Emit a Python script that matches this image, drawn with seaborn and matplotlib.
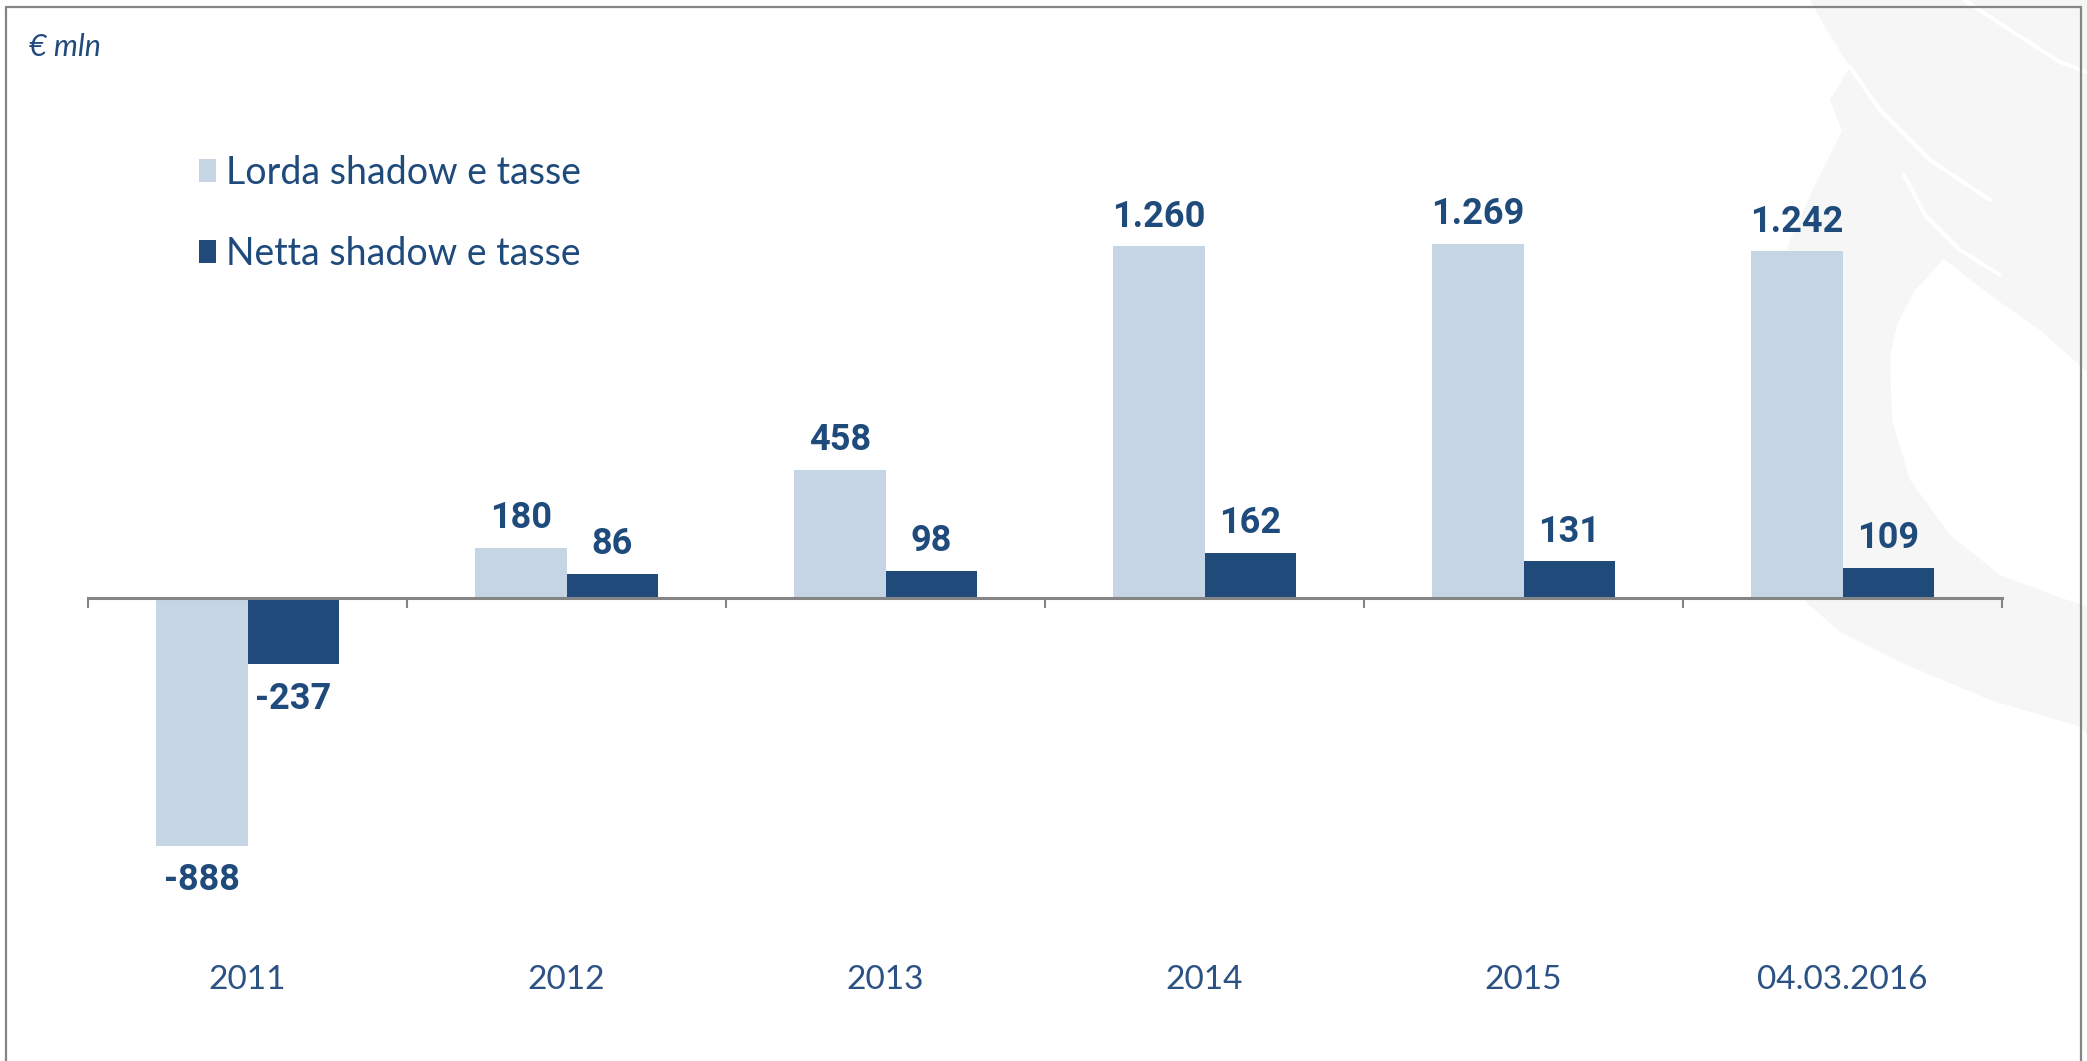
import numpy as np
import pandas as pd
import matplotlib
matplotlib.use("Agg")
import matplotlib.pyplot as plt
from matplotlib.patches import Polygon
from matplotlib.lines import Line2D
import seaborn as sns

# ---- data -------------------------------------------------------------
categories = ["2011", "2012", "2013", "2014", "2015", "04.03.2016"]
series_names = ["Lorda shadow e tasse", "Netta shadow e tasse"]
lorda = [-888, 180, 458, 1260, 1269, 1242]
netta = [-237, 86, 98, 162, 131, 109]
unit_label = "€ mln"

# ---- style ------------------------------------------------------------
LIGHT = "#c5d5e4"
DARK = "#204a7a"
TEXT = "#1f4a7c"
TICK_TEXT = "#2c5284"
GREY = "#858585"
WM = "#f6f6f6"

sns.set_theme(style="white")
plt.rcParams["font.family"] = ["Lato", "DejaVu Sans"]

W, H = 2087, 1061
fig = plt.figure(figsize=(W / 100, H / 100), dpi=100)
fig.patch.set_facecolor("white")


def fx(px):
    return px / W


def fy(py):
    return 1 - py / H


# faint emblem in the background on the right
outer = [(1810, 0), (2087, 0), (2087, 735), (2081, 727), (1990, 700), (1900, 662),
         (1840, 632), (1807, 603), (1780, 560), (1762, 480), (1760, 400),
         (1768, 320), (1790, 240), (1815, 185), (1842, 131), (1830, 100),
         (1850, 67), (1830, 35)]
inner = [(1944, 259), (1915, 290), (1897, 325), (1890, 356), (1892, 420),
         (1910, 480), (1950, 535), (2000, 575), (2061, 598), (2087, 606),
         (2087, 372), (2040, 330), (1990, 295)]
fig.patches.append(Polygon([(fx(x), fy(y)) for x, y in outer], closed=True,
                           transform=fig.transFigure, facecolor=WM, edgecolor="none",
                           zorder=-3))
fig.patches.append(Polygon([(fx(x), fy(y)) for x, y in inner], closed=True,
                           transform=fig.transFigure, facecolor="white", edgecolor="none",
                           zorder=-2))
for pts in ([(1964, 0), (2010, 30), (2060, 62), (2087, 72)],
            [(1850, 67), (1880, 110), (1930, 160), (1990, 200)],
            [(1904, 175), (1925, 215), (1960, 250), (2000, 275)]):
    fig.lines.append(Line2D([fx(x) for x, _ in pts], [fy(y) for _, y in pts],
                            transform=fig.transFigure, color="white", linewidth=3,
                            zorder=-1.5))

# ---- bars -------------------------------------------------------------
df = pd.DataFrame({
    "periodo": categories * 2,
    "valore": lorda + netta,
    "serie": [series_names[0]] * len(categories) + [series_names[1]] * len(categories),
})

ax = fig.add_axes([fx(88), fy(877), fx(2002) - fx(88), 697.5 / H])
ax.set_facecolor("none")
sns.barplot(data=df, x="periodo", y="valore", hue="serie", order=categories,
            hue_order=series_names, palette=[LIGHT, DARK], width=4 / 7,
            saturation=1, errorbar=None, linewidth=0, ax=ax)

ax.set_ylim(-1000, 1500)
ax.set_xlim(-0.5, len(categories) - 0.5)
ax.set_xlabel("")
ax.set_ylabel("")
ax.set_yticks([])
for side in ("top", "left", "right"):
    ax.spines[side].set_visible(False)
ax.spines["bottom"].set_position(("data", 0))
ax.spines["bottom"].set_color(GREY)
ax.spines["bottom"].set_linewidth(2.2)

# tick marks on category boundaries, labels on category centres
ax.set_xticks(np.arange(len(categories)))
ax.set_xticklabels(categories)
ax.set_xticks(np.arange(len(categories) + 1) - 0.5, minor=True)
ax.tick_params(axis="x", which="major", bottom=True, length=0, pad=264, labelsize=24,
               labelcolor=TICK_TEXT)
ax.tick_params(axis="x", which="minor", bottom=True, length=7.5, width=1.5, color=GREY,
               direction="out")


def fmt(v):
    return f"{int(v):,}".replace(",", ".")


label_font = dict(family=["Roboto", "DejaVu Sans"], weight="bold", size=26, color=TEXT)
for container in ax.containers:
    for bar in container:
        h = bar.get_height()
        xc = bar.get_x() + bar.get_width() / 2
        if h >= 0:
            ax.annotate(fmt(h), xy=(xc, h), xytext=(0, 8.5), textcoords="offset points",
                        ha="center", va="bottom", **label_font)
        else:
            ax.annotate(fmt(h), xy=(xc, h), xytext=(0, -12), textcoords="offset points",
                        ha="center", va="top", **label_font)

# legend
handles, labels = ax.get_legend_handles_labels()
if ax.legend_ is not None:
    ax.legend_.remove()
fig.legend(handles, labels, loc="upper left", bbox_to_anchor=(fx(199), fy(155)),
           frameon=False, fontsize=27, labelcolor=TEXT, handlelength=0.46,
           handleheight=0.57, handletextpad=0.25, labelspacing=1.19, borderpad=0,
           borderaxespad=0)

fig.text(fx(29), fy(47), unit_label, ha="left", va="center", fontsize=22,
         style="italic", color=TEXT)

# frame around the panel
for xs, ys in [((6, 6), (7, H)), ((6, 2081), (7, 7)), ((2081, 2081), (7, H))]:
    fig.lines.append(Line2D([fx(x) for x in xs], [fy(y) for y in ys],
                            transform=fig.transFigure, color=GREY, linewidth=1.6,
                            zorder=5))

fig.savefig("out.png", dpi=100)
